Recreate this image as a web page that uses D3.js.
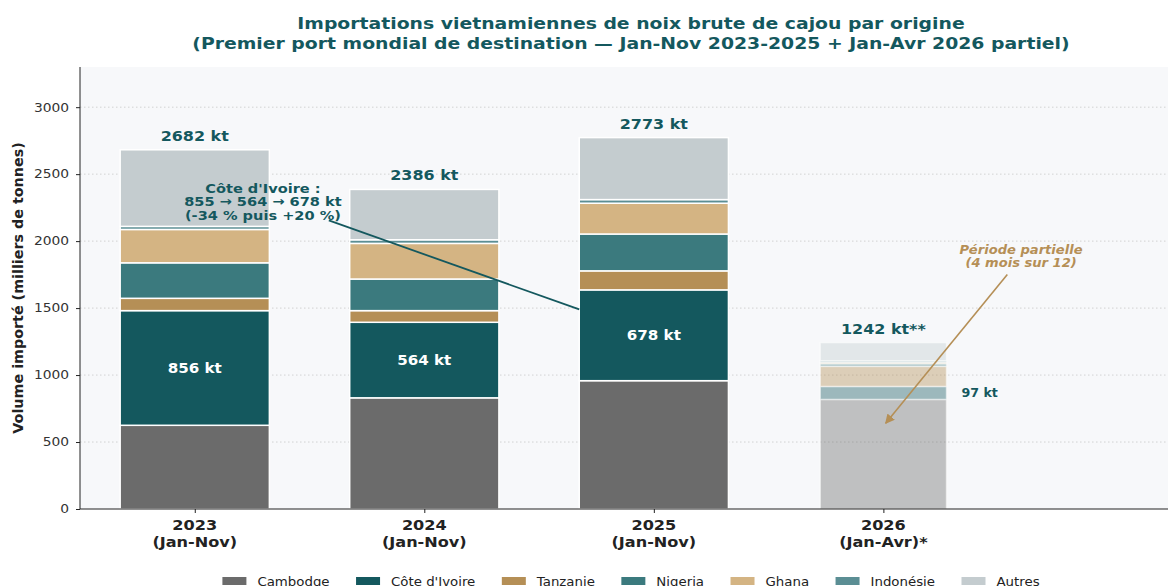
<!DOCTYPE html>
<html>
<head>
<meta charset="utf-8">
<script src="https://cdn.jsdelivr.net/npm/d3@7"></script>
<style>
  body { margin: 0; background: #ffffff; }
  text { font-family: "DejaVu Sans", sans-serif; }
</style>
</head>
<body>
<script>
var years = ["2023", "2024", "2025", "2026"];
var periods = ["(Jan-Nov)", "(Jan-Nov)", "(Jan-Nov)", "(Jan-Avr)*"];
var origins = ["Cambodge", "Côte d'Ivoire", "Tanzanie", "Nigeria", "Ghana", "Indonésie", "Autres"];

// milliers de tonnes
var cambodge   = [625, 830, 958, 818];
var coteIvoire = [856, 564, 678, 97];
var tanzanie   = [92, 87, 142, 150];
var nigeria    = [265, 236, 275, 20];
var ghana      = [249, 266, 230, 10];
var indonesie  = [23, 27, 27, 12];
var autres     = [572, 376, 463, 135];

var totals = [2682, 2386, 2773, 1242];
var totalLabels = ["2682 kt", "2386 kt", "2773 kt", "1242 kt**"];
var ciLabels = ["856 kt", "564 kt", "678 kt", "97 kt"];
var yTicks = [0, 500, 1000, 1500, 2000, 2500, 3000];

var colors = ["#6b6b6b", "#14585e", "#b58f56", "#3b7a7e", "#d4b483", "#5b8e94", "#c4cccf"];
var teal = "#14585e";
var gold = "#b58f56";

var width = 1168;
var height = 586;
var plotL = 80, plotR = 1168, plotT = 67, plotB = 509;

var series = [cambodge, coteIvoire, tanzanie, nigeria, ghana, indonesie, autres];
var rows = years.map(function(yr, i) {
    var r = { year: yr, i: i };
    origins.forEach(function(o, k) { r[o] = series[k][i]; });
    return r;
});

var x = d3.scaleLinear().domain([-0.5, 4.24]).range([plotL, plotR]);
var y = d3.scaleLinear().domain([0, 3300]).range([plotB, plotT]);
var color = d3.scaleOrdinal().domain(origins).range(colors);

// 2026 est partiel : barre plus étroite et estompée
function barWidth(i) { return i == 3 ? 0.55 : 0.65; }

// le texte de la figure d'origine est un peu plus large que DejaVu
function stretch(sel, k) {
    sel.each(function() {
        var w = this.getComputedTextLength();
        d3.select(this).attr("textLength", w * k).attr("lengthAdjust", "spacingAndGlyphs");
    });
}

var svg = d3.select("body").append("svg")
    .attr("width", width)
    .attr("height", height);

svg.append("rect")
    .attr("x", plotL).attr("y", plotT)
    .attr("width", plotR - plotL).attr("height", plotB - plotT)
    .attr("fill", "#f7f8fa");

// grille
svg.append("g").selectAll("line")
    .data(yTicks.slice(1))
    .enter().append("line")
    .attr("x1", plotL).attr("x2", plotR)
    .attr("y1", function(d) { return y(d); })
    .attr("y2", function(d) { return y(d); })
    .attr("stroke", "#c8c8c8")
    .attr("stroke-width", 0.8)
    .attr("stroke-dasharray", "1.5,2.5");

var stack = d3.stack().keys(origins)(rows);

svg.append("g").selectAll("g")
    .data(stack)
    .enter().append("g")
    .attr("fill", function(d) { return color(d.key); })
    .selectAll("rect")
    .data(function(d) { return d; })
    .enter().append("rect")
    .attr("x", function(d) { return x(d.data.i - barWidth(d.data.i) / 2); })
    .attr("width", function(d) { return x(barWidth(d.data.i)) - x(0); })
    .attr("y", function(d) { return y(d[1]); })
    .attr("height", function(d) { return y(d[0]) - y(d[1]); })
    .attr("fill-opacity", function(d) { return d.data.i == 3 ? 0.4 : 1; })
    .attr("stroke", "#ffffff")
    .attr("stroke-opacity", function(d) { return d.data.i == 3 ? 0.5 : 1; })
    .attr("stroke-width", 1.5);

// totaux
svg.append("g").selectAll("text")
    .data(totals)
    .enter().append("text")
    .attr("x", function(d, i) { return x(i); })
    .attr("y", function(d) { return y(d) - 9; })
    .attr("text-anchor", "middle")
    .attr("font-size", 14.5)
    .attr("font-weight", "bold")
    .attr("fill", teal)
    .text(function(d, i) { return totalLabels[i]; })
    .call(stretch, 1.1);

// Côte d'Ivoire dans les barres
var ciLayer = stack[1];
svg.append("g").selectAll("text")
    .data(ciLayer.slice(0, 3))
    .enter().append("text")
    .attr("x", function(d) { return x(d.data.i); })
    .attr("y", function(d) { return y((d[0] + d[1]) / 2) + 5; })
    .attr("text-anchor", "middle")
    .attr("font-size", 13.5)
    .attr("font-weight", "bold")
    .attr("fill", "#ffffff")
    .text(function(d) { return ciLabels[d.data.i]; })
    .call(stretch, 1.12);

var ci26 = ciLayer[3];
svg.append("text")
    .attr("x", x(3.34))
    .attr("y", y((ci26[0] + ci26[1]) / 2) + 4)
    .attr("font-size", 11.5)
    .attr("font-weight", "bold")
    .attr("fill", teal)
    .text(ciLabels[3])
    .call(stretch, 1.1);

// axes
var yAxis = svg.append("g")
    .attr("transform", "translate(" + plotL + ",0)")
    .call(d3.axisLeft(y).tickValues(yTicks).tickSize(4).tickPadding(7).tickFormat(d3.format("d")));
yAxis.select(".domain").attr("d", "M0," + plotT + "V" + plotB).attr("stroke", "#222");
yAxis.selectAll(".tick line").attr("stroke", "#222");
yAxis.selectAll(".tick text")
    .attr("font-size", 12)
    .attr("font-family", "DejaVu Sans, sans-serif")
    .attr("fill", "#333")
    .call(stretch, 1.15);

var xAxis = svg.append("g")
    .attr("transform", "translate(0," + plotB + ")")
    .call(d3.axisBottom(x).tickValues([0, 1, 2, 3]).tickSize(4).tickFormat(""));
xAxis.select(".domain").attr("d", "M" + plotL + ",0H" + plotR).attr("stroke", "#222");
xAxis.selectAll(".tick line").attr("stroke", "#222");

[years, periods].forEach(function(labels, k) {
    svg.append("g").selectAll("text")
        .data(labels)
        .enter().append("text")
        .attr("x", function(d, i) { return x(i); })
        .attr("y", 530 + k * 17)
        .attr("text-anchor", "middle")
        .attr("font-size", 14.5)
        .attr("font-weight", "bold")
        .attr("fill", "#222")
        .text(function(d) { return d; })
        .call(stretch, 1.11);
});

svg.append("text")
    .attr("transform", "translate(23," + ((plotT + plotB) / 2) + ") rotate(-90)")
    .attr("text-anchor", "middle")
    .attr("font-size", 13.5)
    .attr("font-weight", "bold")
    .attr("fill", "#222")
    .text("Volume importé (milliers de tonnes)")
    .call(stretch, 1.06);

// titre
["Importations vietnamiennes de noix brute de cajou par origine",
 "(Premier port mondial de destination — Jan-Nov 2023-2025 + Jan-Avr 2026 partiel)"].forEach(function(t, k) {
    svg.append("text")
        .attr("x", 631)
        .attr("y", 29 + k * 20)
        .attr("text-anchor", "middle")
        .attr("font-size", 16.5)
        .attr("font-weight", "bold")
        .attr("fill", teal)
        .text(t)
        .call(stretch, 1.14);
});

// annotations
var defs = svg.append("defs");
defs.append("marker")
    .attr("id", "headGold")
    .attr("viewBox", "0 0 10 10")
    .attr("refX", 9).attr("refY", 5)
    .attr("markerWidth", 6).attr("markerHeight", 6)
    .attr("orient", "auto")
    .append("path").attr("d", "M0,0L10,5L0,10z").attr("fill", gold);

svg.append("line")
    .attr("x1", x(0.584)).attr("y1", y(2155))
    .attr("x2", x(1.675)).attr("y2", y(1490))
    .attr("stroke", teal)
    .attr("stroke-width", 1.8);

["Côte d'Ivoire :", "855 → 564 → 678 kt", "(-34 % puis +20 %)"].forEach(function(t, k) {
    svg.append("text")
        .attr("x", x(0.297))
        .attr("y", y(2360) + k * 13.3)
        .attr("text-anchor", "middle")
        .attr("font-size", 13)
        .attr("font-weight", "bold")
        .attr("fill", teal)
        .text(t)
        .call(stretch, 1.12);
});

svg.append("line")
    .attr("x1", x(3.54)).attr("y1", y(1750))
    .attr("x2", x(3.01)).attr("y2", y(640))
    .attr("stroke", gold)
    .attr("stroke-width", 1.6)
    .attr("marker-end", "url(#headGold)");

["Période partielle", "(4 mois sur 12)"].forEach(function(t, k) {
    svg.append("text")
        .attr("x", x(3.6))
        .attr("y", y(1905) + k * 13)
        .attr("text-anchor", "middle")
        .attr("font-size", 12)
        .attr("font-weight", "bold")
        .attr("font-style", "italic")
        .attr("fill", gold)
        .text(t)
        .call(stretch, 1.09);
});

// légende
var legend = svg.append("g");
var items = legend.selectAll("g")
    .data(origins)
    .enter().append("g");
items.append("rect")
    .attr("width", 24).attr("height", 8)
    .attr("y", 577)
    .attr("fill", function(d) { return color(d); });
items.append("text")
    .attr("y", 586)
    .attr("font-size", 12)
    .attr("fill", "#222")
    .text(function(d) { return d; })
    .call(stretch, 1.11);

var colGap = 26.5;
var pos = 0;
var offsets = [];
items.each(function(d) {
    var w = +d3.select(this).select("text").attr("textLength");
    offsets.push(pos);
    pos += 24 + 11 + w + colGap;
});
var total = pos - colGap;
var start = 631 - total / 2;
items.each(function(d, i) {
    var g = d3.select(this);
    g.select("rect").attr("x", start + offsets[i]);
    g.select("text").attr("x", start + offsets[i] + 35);
});
</script>
</body>
</html>
